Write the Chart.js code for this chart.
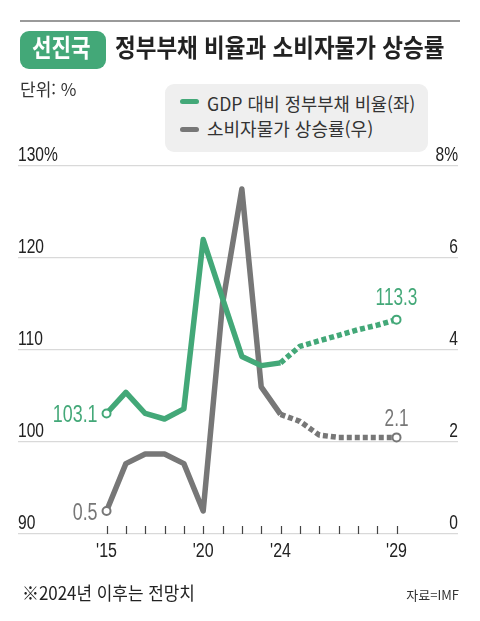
<!DOCTYPE html>
<html lang="ko">
<head>
<meta charset="utf-8">
<script src="https://cdn.jsdelivr.net/npm/chart.js@4.4.1/dist/chart.umd.min.js"></script>
<style>
  html, body { margin: 0; padding: 0; background: #fff; }
  #wrap { position: relative; width: 480px; height: 621px; overflow: hidden;
          font-family: "Noto Sans CJK KR", sans-serif; color: #222; }
  #chart { position: absolute; left: 0; top: 0; }
  .t { position: absolute; white-space: nowrap; line-height: 1; transform-origin: left top; }
  .rule { position: absolute; left: 20px; top: 20px; width: 440px; height: 2px; background: #9a9a9a; }
  .badge { position: absolute; left: 20px; top: 31px; width: 86px; height: 38px; border-radius: 9px;
           background: #43a878; }
  .legend { position: absolute; left: 165px; top: 84px; width: 263px; height: 68px; border-radius: 9px;
            background: #efefef; }
  .swatch { position: absolute; width: 19px; height: 5px; border-radius: 3px; }
</style>
</head>
<body>
<div id="wrap">
  <canvas id="chart" width="480" height="621"></canvas>
  <div class="rule"></div>
  <div class="badge"></div>
  <div class="t" style="left:32px;top:34px;font-size:25px;font-weight:700;color:#fff;transform:scaleX(0.85)">선진국</div>
  <div class="t" style="left:115px;top:34px;font-size:25px;font-weight:700;color:#222;transform:scaleX(0.9)">정부부채 비율과 소비자물가 상승률</div>
  <div class="t" style="left:20px;top:80px;font-size:17px;color:#333">단위: %</div>
  <div class="legend"></div>
  <div class="swatch" style="left:180px;top:99px;background:#43a878"></div>
  <div class="t" style="left:207px;top:94px;font-size:18px;color:#333;transform:scaleX(0.98)">GDP 대비 정부부채 비율(좌)</div>
  <div class="swatch" style="left:180px;top:127px;background:#777"></div>
  <div class="t" style="left:207px;top:119px;font-size:18px;color:#333">소비자물가 상승률(우)</div>
  <div class="t" style="left:22px;top:583px;font-size:18px;color:#222;transform:scaleX(0.94)">※2024년 이후는 전망치</div>
  <div class="t" style="right:21px;top:588px;font-size:13px;color:#333;transform-origin:right top">자료=IMF</div>
</div>
<script>
// 연도 눈금 (원본 그림 그대로)
const xLabels = ["'15", "", "", "", "", "'20", "", "", "", "'24", "", "", "", "", "", "'29"];
// GDP 대비 정부부채 비율 (%)
const debt = [103.1, 105.4, 103.1, 102.5, 103.6, 122.0, 115.6, 109.3, 108.3, 108.6, 110.4, 111.0, 111.6, 112.2, 112.7, 113.3];
// 소비자물가 상승률 (%)
const cpi = [0.5, 1.53, 1.74, 1.74, 1.53, 0.5, 5.0, 7.5, 3.2, 2.6, 2.45, 2.15, 2.1, 2.1, 2.1, 2.1];
// 전망치 시작 위치 (2024)
const forecastFrom = 9;
const leftTicks = [90, 100, 110, 120, 130];
const rightTicks = [0, 2, 4, 6, 8];

const GREEN = '#43a878';
const GRAY = '#777777';
const NUM_FONT = '"Liberation Sans", Arial, sans-serif';

const toPoints = arr => arr.map((v, i) => ({ x: i, y: v }));
const endsOnly = arr => arr.map((_, i) => (i === 0 || i === arr.length - 1) ? 4 : 0);

// 좁은 숫자 글꼴 흉내: 가로로 눌러서 찍기
function narrowText(ctx, text, x, y, size, align, color, sx) {
    ctx.save();
    ctx.fillStyle = color;
    ctx.font = size + 'px ' + NUM_FONT;
    ctx.textAlign = align;
    ctx.textBaseline = 'alphabetic';
    ctx.translate(x, y);
    ctx.scale(sx, 1);
    ctx.fillText(text, 0, 0);
    ctx.restore();
}

// 축 라벨 + x축 안쪽 짧은 눈금
const axisLabels = {
    id: 'axisLabels',
    afterDraw(chart) {
        const { ctx, chartArea, scales } = chart;
        leftTicks.forEach(v => {
            const y = scales.y.getPixelForValue(v);
            narrowText(ctx, v === 130 ? v + '%' : String(v), chartArea.left, y - 5, 20.5, 'left', '#222', 0.76);
        });
        rightTicks.forEach(v => {
            const y = scales.y1.getPixelForValue(v);
            narrowText(ctx, v === 8 ? v + '%' : String(v), chartArea.right, y - 5, 20.5, 'right', '#222', 0.76);
        });
        ctx.save();
        ctx.strokeStyle = '#444';
        ctx.lineWidth = 1.2;
        xLabels.forEach((lab, i) => {
            const x = Math.round(scales.x.getPixelForValue(i)) + 0.5;
            ctx.beginPath();
            ctx.moveTo(x, chartArea.bottom - 8);
            ctx.lineTo(x, chartArea.bottom);
            ctx.stroke();
        });
        ctx.restore();
        xLabels.forEach((lab, i) => {
            if (!lab) return;
            narrowText(ctx, lab, scales.x.getPixelForValue(i), chartArea.bottom + 22.5, 20.5, 'center', '#222', 0.78);
        });
    }
};

// 시작/끝 값 라벨
const valueLabels = {
    id: 'valueLabels',
    afterDatasetsDraw(chart) {
        const { ctx } = chart;
        const items = [
            { ds: 0, idx: 0, pos: 'left', color: GREEN, size: 24.5, dy: 0 },
            { ds: 0, idx: debt.length - 1, pos: 'top', color: GREEN, size: 23.3, dy: 22.7 },
            { ds: 1, idx: 0, pos: 'left', color: GRAY, size: 24.5, dy: 0 },
            { ds: 1, idx: cpi.length - 1, pos: 'top', color: GRAY, size: 23.3, dy: 19.3 }
        ];
        items.forEach(it => {
            const pt = chart.getDatasetMeta(it.ds).data[it.idx];
            const text = chart.data.datasets[it.ds].data[it.idx].y.toFixed(1);
            const base = pt.y - it.dy + it.size * 0.358;
            if (it.pos === 'left') {
                narrowText(ctx, text, pt.x - 9, base, it.size, 'right', it.color, 0.73);
            } else {
                narrowText(ctx, text, pt.x, base, it.size, 'center', it.color, 0.74);
            }
        });
    }
};

document.addEventListener('DOMContentLoaded', () => {
    const dashed = ctx => ctx.p0DataIndex >= forecastFrom ? [5, 3] : undefined;

    new Chart(document.getElementById('chart').getContext('2d'), {
        type: 'line',
        data: {
            datasets: [{
                label: 'GDP 대비 정부부채 비율(좌)',
                data: toPoints(debt),
                yAxisID: 'y',
                borderColor: GREEN,
                borderWidth: 5.5,
                borderJoinStyle: 'round',
                borderCapStyle: 'butt',
                pointRadius: endsOnly(debt),
                pointBackgroundColor: '#fff',
                pointBorderColor: GREEN,
                pointBorderWidth: 2,
                segment: { borderDash: dashed }
            }, {
                label: '소비자물가 상승률(우)',
                data: toPoints(cpi),
                yAxisID: 'y1',
                borderColor: GRAY,
                borderWidth: 5.5,
                borderJoinStyle: 'round',
                borderCapStyle: 'butt',
                pointRadius: endsOnly(cpi),
                pointBackgroundColor: '#fff',
                pointBorderColor: GRAY,
                pointBorderWidth: 2,
                segment: { borderDash: dashed }
            }]
        },
        options: {
            responsive: false,
            animation: false,
            layout: { padding: { left: 18, right: 22, top: 166, bottom: 87 } },
            plugins: {
                legend: { display: false },
                tooltip: { enabled: false }
            },
            scales: {
                x: {
                    type: 'linear',
                    min: -4.58,
                    max: 18.18,
                    grid: { display: false, drawTicks: false },
                    border: { display: false },
                    ticks: { display: false }
                },
                y: {
                    position: 'left',
                    min: leftTicks[0],
                    max: leftTicks[leftTicks.length - 1],
                    afterBuildTicks: axis => { axis.ticks = leftTicks.map(v => ({ value: v })); },
                    grid: { color: '#d9d9d9', lineWidth: 1.3, drawTicks: false },
                    border: { display: false },
                    ticks: { display: false }
                },
                y1: {
                    position: 'right',
                    min: rightTicks[0],
                    max: rightTicks[rightTicks.length - 1],
                    grid: { display: false, drawTicks: false },
                    border: { display: false },
                    ticks: { display: false }
                }
            }
        },
        plugins: [axisLabels, valueLabels]
    });
});
</script>
</body>
</html>
